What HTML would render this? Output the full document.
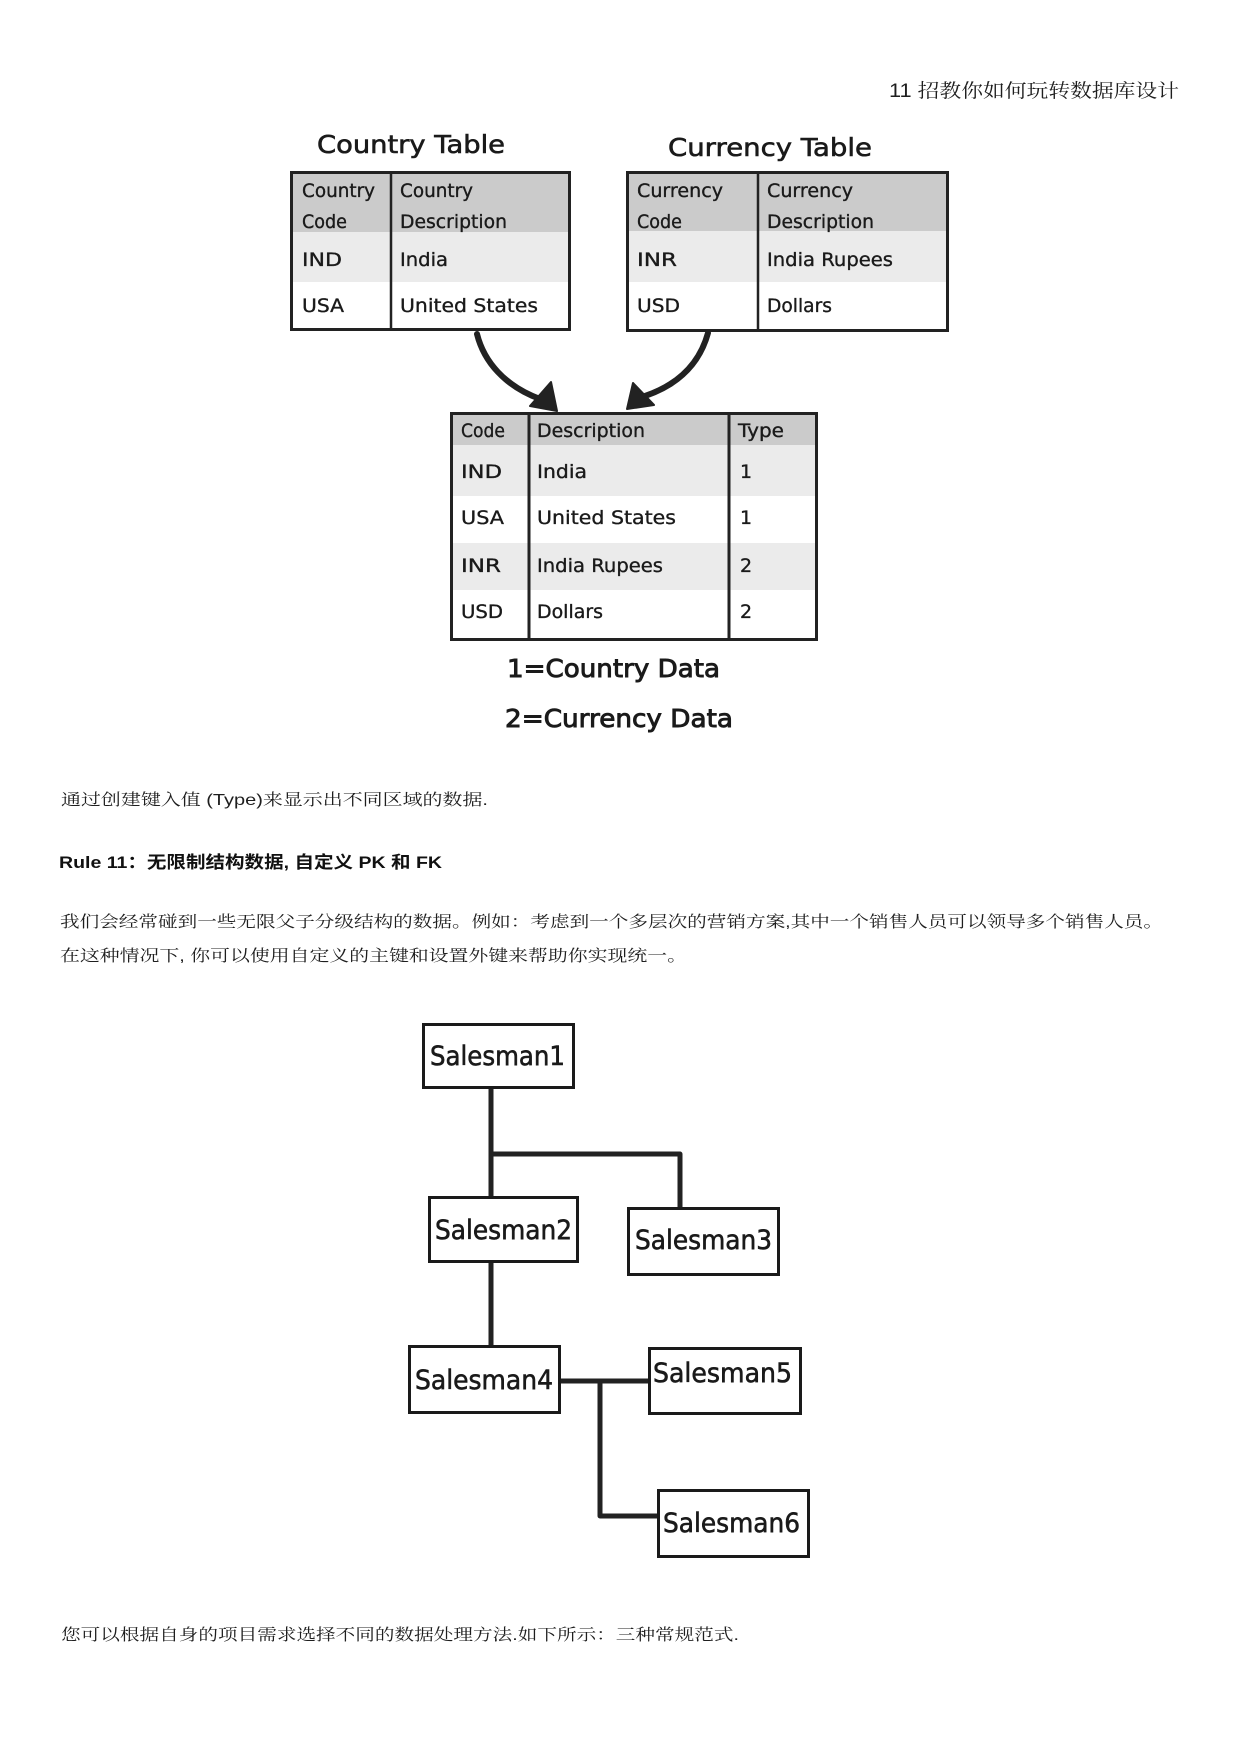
<!DOCTYPE html>
<html>
<head>
<meta charset="utf-8">
<style>
  html, body { margin: 0; padding: 0; background: #fff; }
  body { width: 1241px; height: 1754px; overflow: hidden; }
  svg { display: block; }
  .cjk { font-family: "Liberation Sans", "Noto Serif CJK SC", serif; fill: #1e1e1e; }
  .cjkb { font-family: "Liberation Sans", "Noto Sans CJK SC", sans-serif; font-weight: bold; fill: #111; }
  .d { font-family: "DejaVu Sans", "Liberation Sans", sans-serif; fill: #1a1a1a; stroke: #1a1a1a; stroke-width: 0.35; }
  .t { stroke-width: 0.6; }
  .big { stroke-width: 0.9; }
</style>
</head>
<body>
<svg width="1241" height="1754" viewBox="0 0 1241 1754" xmlns="http://www.w3.org/2000/svg">
  <rect x="0" y="0" width="1241" height="1754" fill="#fff"/>

  <!-- Header -->
  <text class="cjk" x="889" y="97" font-size="19" textLength="290" lengthAdjust="spacingAndGlyphs">11 招教你如何玩转数据库设计</text>

  <!-- Titles -->
  <text class="d t" x="317" y="153" font-size="25" textLength="188" lengthAdjust="spacingAndGlyphs">Country Table</text>
  <text class="d t" x="668" y="156" font-size="25" textLength="204" lengthAdjust="spacingAndGlyphs">Currency Table</text>

  <!-- Country table -->
  <rect x="291" y="172" width="279" height="60" fill="#cbcbcb"/>
  <rect x="291" y="232" width="279" height="50" fill="#ebebeb"/>
  <rect x="291" y="282" width="279" height="48" fill="#ffffff"/>
  <rect x="291.5" y="172.5" width="278" height="157" fill="none" stroke="#222" stroke-width="3"/>
  <line x1="391" y1="172" x2="391" y2="330" stroke="#222" stroke-width="2.5"/>
  <text class="d" x="302" y="197" font-size="19" textLength="73" lengthAdjust="spacingAndGlyphs">Country</text>
  <text class="d" x="302" y="228" font-size="19" textLength="45" lengthAdjust="spacingAndGlyphs">Code</text>
  <text class="d" x="400" y="197" font-size="19" textLength="73" lengthAdjust="spacingAndGlyphs">Country</text>
  <text class="d" x="400" y="228" font-size="19" textLength="107" lengthAdjust="spacingAndGlyphs">Description</text>
  <text class="d" x="302" y="266" font-size="19" textLength="40" lengthAdjust="spacingAndGlyphs">IND</text>
  <text class="d" x="400" y="266" font-size="19" textLength="48" lengthAdjust="spacingAndGlyphs">India</text>
  <text class="d" x="302" y="312" font-size="19" textLength="42" lengthAdjust="spacingAndGlyphs">USA</text>
  <text class="d" x="400" y="312" font-size="19" textLength="138" lengthAdjust="spacingAndGlyphs">United States</text>

  <!-- Currency table -->
  <rect x="627" y="172" width="321" height="59" fill="#cbcbcb"/>
  <rect x="627" y="231" width="321" height="51" fill="#ebebeb"/>
  <rect x="627" y="282" width="321" height="49" fill="#ffffff"/>
  <rect x="627.5" y="172.5" width="320" height="158" fill="none" stroke="#222" stroke-width="3"/>
  <line x1="758" y1="172" x2="758" y2="331" stroke="#222" stroke-width="2.5"/>
  <text class="d" x="637" y="197" font-size="19" textLength="86" lengthAdjust="spacingAndGlyphs">Currency</text>
  <text class="d" x="637" y="228" font-size="19" textLength="45" lengthAdjust="spacingAndGlyphs">Code</text>
  <text class="d" x="767" y="197" font-size="19" textLength="86" lengthAdjust="spacingAndGlyphs">Currency</text>
  <text class="d" x="767" y="228" font-size="19" textLength="107" lengthAdjust="spacingAndGlyphs">Description</text>
  <text class="d" x="637" y="266" font-size="19" textLength="40" lengthAdjust="spacingAndGlyphs">INR</text>
  <text class="d" x="767" y="266" font-size="19" textLength="126" lengthAdjust="spacingAndGlyphs">India Rupees</text>
  <text class="d" x="637" y="312" font-size="19" textLength="43" lengthAdjust="spacingAndGlyphs">USD</text>
  <text class="d" x="767" y="312" font-size="19" textLength="65" lengthAdjust="spacingAndGlyphs">Dollars</text>

  <!-- Arrows -->
  <path d="M477,334 C484,362 505,386 540,399" fill="none" stroke="#222" stroke-width="6" stroke-linecap="round"/>
  <polygon points="557,411 530,406 551,382" fill="#222" stroke="#222" stroke-width="2" stroke-linejoin="round"/>
  <path d="M708,333 C700,362 680,384 645,396" fill="none" stroke="#222" stroke-width="6" stroke-linecap="round"/>
  <polygon points="627,409 633,383 654,405" fill="#222" stroke="#222" stroke-width="2" stroke-linejoin="round"/>

  <!-- Combined table -->
  <rect x="450" y="413" width="367" height="32" fill="#cbcbcb"/>
  <rect x="450" y="445" width="367" height="51" fill="#ebebeb"/>
  <rect x="450" y="496" width="367" height="47" fill="#ffffff"/>
  <rect x="450" y="543" width="367" height="47" fill="#ebebeb"/>
  <rect x="450" y="590" width="367" height="50" fill="#ffffff"/>
  <rect x="451.5" y="413.5" width="365" height="226" fill="none" stroke="#222" stroke-width="3"/>
  <line x1="529" y1="413" x2="529" y2="640" stroke="#222" stroke-width="3"/>
  <line x1="729" y1="413" x2="729" y2="640" stroke="#222" stroke-width="3"/>
  <text class="d" x="461" y="437" font-size="19" textLength="44" lengthAdjust="spacingAndGlyphs">Code</text>
  <text class="d" x="537" y="437" font-size="19" textLength="108" lengthAdjust="spacingAndGlyphs">Description</text>
  <text class="d" x="738" y="437" font-size="19" textLength="46" lengthAdjust="spacingAndGlyphs">Type</text>
  <text class="d" x="461" y="478" font-size="19" textLength="41" lengthAdjust="spacingAndGlyphs">IND</text>
  <text class="d" x="537" y="478" font-size="19" textLength="50" lengthAdjust="spacingAndGlyphs">India</text>
  <text class="d" x="740" y="478" font-size="19">1</text>
  <text class="d" x="461" y="524" font-size="19" textLength="43" lengthAdjust="spacingAndGlyphs">USA</text>
  <text class="d" x="537" y="524" font-size="19" textLength="139" lengthAdjust="spacingAndGlyphs">United States</text>
  <text class="d" x="740" y="524" font-size="19">1</text>
  <text class="d" x="461" y="572" font-size="19" textLength="40" lengthAdjust="spacingAndGlyphs">INR</text>
  <text class="d" x="537" y="572" font-size="19" textLength="126" lengthAdjust="spacingAndGlyphs">India Rupees</text>
  <text class="d" x="740" y="572" font-size="19">2</text>
  <text class="d" x="461" y="618" font-size="19" textLength="42" lengthAdjust="spacingAndGlyphs">USD</text>
  <text class="d" x="537" y="618" font-size="19" textLength="66" lengthAdjust="spacingAndGlyphs">Dollars</text>
  <text class="d" x="740" y="618" font-size="19">2</text>

  <text class="d big" x="507" y="677" font-size="25" textLength="213" lengthAdjust="spacingAndGlyphs">1=Country Data</text>
  <text class="d big" x="505" y="727" font-size="25" textLength="228" lengthAdjust="spacingAndGlyphs">2=Currency Data</text>

  <!-- Body text -->
  <text class="cjk" x="61" y="805" font-size="16" textLength="427" lengthAdjust="spacingAndGlyphs">通过创建键入值 (Type)来显示出不同区域的数据.</text>
  <text class="cjkb" x="59" y="868" font-size="17" textLength="383" lengthAdjust="spacingAndGlyphs">Rule 11：无限制结构数据, 自定义 PK 和 FK</text>
  <text class="cjk" x="60" y="927" font-size="16" textLength="1103" lengthAdjust="spacingAndGlyphs">我们会经常碰到一些无限父子分级结构的数据。例如：考虑到一个多层次的营销方案,其中一个销售人员可以领导多个销售人员。</text>
  <text class="cjk" x="60" y="961" font-size="16" textLength="627" lengthAdjust="spacingAndGlyphs">在这种情况下, 你可以使用自定义的主键和设置外键来帮助你实现统一。</text>

  <!-- Tree connectors -->
  <g stroke="#222" stroke-width="5" fill="none" stroke-linejoin="round">
    <line x1="491" y1="1088" x2="491" y2="1197"/>
    <polyline points="491,1154 680,1154 680,1208"/>
    <line x1="491" y1="1262" x2="491" y2="1345"/>
    <line x1="560" y1="1381" x2="648" y2="1381"/>
    <polyline points="600,1381 600,1516 657,1516"/>
  </g>

  <!-- Tree boxes -->
  <g fill="#fff" stroke="#1a1a1a" stroke-width="3">
    <rect x="423.5" y="1024.5" width="150" height="63"/>
    <rect x="429.5" y="1197.5" width="148" height="64"/>
    <rect x="628.5" y="1208.5" width="150" height="66"/>
    <rect x="409.5" y="1346.5" width="150" height="66"/>
    <rect x="649.5" y="1348.5" width="151" height="65"/>
    <rect x="658.5" y="1490.5" width="150" height="66"/>
  </g>
  <text class="d t" x="430" y="1065" font-size="27" textLength="135" lengthAdjust="spacingAndGlyphs">Salesman1</text>
  <text class="d t" x="435" y="1239" font-size="27" textLength="137" lengthAdjust="spacingAndGlyphs">Salesman2</text>
  <text class="d t" x="635" y="1249" font-size="27" textLength="137" lengthAdjust="spacingAndGlyphs">Salesman3</text>
  <text class="d t" x="415" y="1389" font-size="27" textLength="138" lengthAdjust="spacingAndGlyphs">Salesman4</text>
  <text class="d t" x="653" y="1382" font-size="27" textLength="139" lengthAdjust="spacingAndGlyphs">Salesman5</text>
  <text class="d t" x="663" y="1532" font-size="27" textLength="137" lengthAdjust="spacingAndGlyphs">Salesman6</text>

  <!-- Final line -->
  <text class="cjk" x="61" y="1640" font-size="16" textLength="678" lengthAdjust="spacingAndGlyphs">您可以根据自身的项目需求选择不同的数据处理方法.如下所示：三种常规范式.</text>
</svg>
</body>
</html>
